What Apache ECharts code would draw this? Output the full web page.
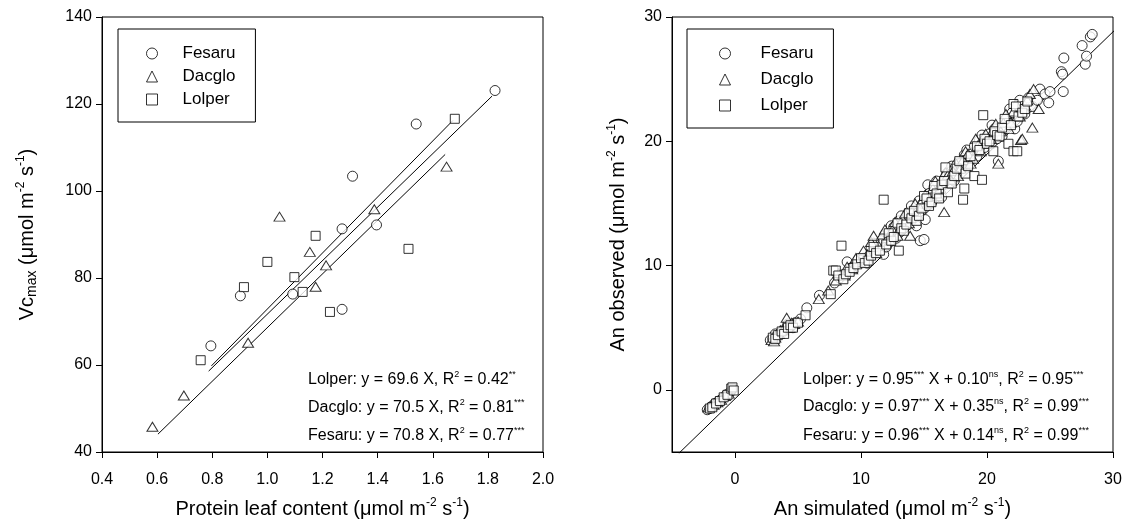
<!DOCTYPE html>
<html><head><meta charset="utf-8">
<script src="https://cdn.jsdelivr.net/npm/echarts@6/dist/echarts.min.js"></script>
<style>html,body{margin:0;padding:0;background:#fff}#c{width:1125px;height:519px}</style>
</head><body><div id="c"></div>
<script>
// ---------- data ----------
const speciesNames = ['Fesaru', 'Dacglo', 'Lolper'];

// Left panel: protein leaf content vs Vcmax
const fesaruLeft = [[0.795,64.4],[0.902,75.9],[1.092,76.3],[1.271,91.3],[1.271,72.8],[1.309,103.4],[1.396,92.2],[1.54,115.4],[1.826,123.1]];
const dacgloLeft = [[0.583,45.8],[0.697,53.0],[0.930,65.1],[1.044,94.1],[1.154,86.0],[1.175,78.0],[1.213,82.9],[1.388,95.8],[1.65,105.6]];
const lolperLeft = [[0.758,61.1],[0.915,77.9],[1.0,83.7],[1.098,80.2],[1.128,76.8],[1.175,89.7],[1.227,72.2],[1.512,86.7],[1.68,116.6]];
const fitFesaruLeft = [[0.787,58.6],[1.815,121.8]];
const fitLolperLeft = [[0.797,59.8],[1.673,116.2]];
const fitDacgloLeft = [[0.603,44.1],[1.645,108.4]];

// Right panel: An simulated vs An observed
const fesaruRight = [[-2.2,-1.6],[-2.0,-1.5],[-1.8,-1.3],[-1.6,-1.1],[-1.3,-0.9],[-1.0,-0.7],[-0.7,-0.4],[-0.4,-0.2],
 [2.8,4.0],[3.0,4.1],[3.2,4.5],[3.3,4.3],[3.6,4.6],[4.0,4.9],[4.2,5.3],[4.4,5.1],[4.6,5.0],[4.8,5.4],[5.2,5.7],
 [5.7,6.6],[6.7,7.6],[7.9,8.6],[8.3,9.0],[8.9,10.3],[9.2,9.8],[9.5,10.0],[9.8,10.5],[10.2,10.6],[10.5,10.2],[10.8,11.4],[11.0,11.8],[11.3,11.2],[11.6,12.0],[11.8,10.9],[12.0,11.5],[12.2,12.4],[12.4,13.2],[12.6,13.1],[12.8,12.2],[13.0,13.6],[13.2,14.0],[13.4,13.0],[13.6,13.5],[13.8,14.3],[14.0,14.8],[14.2,14.0],[14.4,13.2],[14.6,15.2],[14.7,12.0],[14.9,15.0],[15.0,12.1],[15.1,13.7],[15.3,16.5],[15.4,15.8],[15.6,15.1],[15.8,16.3],[16.0,16.8],[16.2,16.0],[16.4,15.5],[16.6,16.9],[16.8,17.4],[17.0,17.5],[17.2,18.0],[17.4,16.8],[17.6,17.2],[17.8,18.2],[18.0,17.8],[18.2,18.9],[18.4,19.3],[18.6,18.4],[18.8,19.0],[19.0,19.6],[19.2,18.8],[19.4,20.1],[19.6,20.5],[19.8,19.5],[20.0,20.0],[20.2,20.6],[20.4,21.3],[20.6,21.0],[20.8,20.2],[20.9,18.4],[21.2,20.4],[21.4,21.0],[21.6,21.8],[21.8,22.6],[22.0,22.3],[22.2,21.0],[22.4,21.6],[22.6,23.3],[22.8,22.8],[23.0,22.2],[23.3,23.5],[23.6,22.8],[24.0,23.3],[24.2,24.2],[24.6,23.8],[24.9,23.1],[25.0,24.0],[25.9,25.6],[26.0,25.4],[26.05,24.0],[26.1,26.7],[27.55,27.7],[27.8,26.2],[27.9,26.85],[28.2,28.4],[28.35,28.6]];
const dacgloRight = [[-2.1,-1.4],[-1.9,-1.3],[-1.7,-1.2],[-1.4,-1.0],[-1.1,-0.8],[-0.8,-0.5],[-0.5,-0.3],
 [2.9,4.0],[3.1,3.9],[3.2,4.2],[3.5,4.5],[3.6,4.8],[3.8,4.8],[4.1,5.8],[4.3,5.0],[4.5,5.4],[4.7,5.3],[5.0,5.5],
 [6.65,7.3],[7.4,8.0],[8.0,8.8],[8.2,9.4],[8.7,9.2],[8.9,9.9],[9.3,9.7],[9.6,10.6],[9.9,10.3],[10.2,11.2],[10.5,10.9],[10.8,11.9],[11.0,12.4],[11.2,11.0],[11.4,11.6],[11.7,12.5],[11.9,12.9],[12.1,12.2],[12.3,12.0],[12.5,12.9],[12.7,13.5],[12.9,12.4],[13.1,13.0],[13.3,13.7],[13.5,14.2],[13.8,13.4],[13.9,12.4],[14.1,14.4],[14.3,15.0],[14.5,14.1],[14.7,14.6],[14.9,15.3],[15.1,15.7],[15.3,15.0],[15.5,15.3],[15.7,16.2],[15.9,16.8],[16.1,15.6],[16.3,16.2],[16.6,14.3],[16.7,17.5],[16.9,17.3],[17.1,16.9],[17.3,17.6],[17.5,18.3],[17.7,17.2],[17.9,17.8],[18.1,18.5],[18.3,19.2],[18.5,19.0],[18.7,18.2],[18.9,18.6],[19.1,20.2],[19.3,19.7],[19.5,19.2],[19.7,20.0],[19.9,20.6],[20.1,19.8],[20.3,20.2],[20.5,20.9],[20.7,21.4],[20.9,18.2],[21.1,20.8],[21.3,21.5],[21.5,22.2],[21.7,21.0],[21.9,21.5],[22.1,22.4],[22.3,23.0],[22.6,22.0],[22.7,20.1],[22.8,20.2],[23.0,22.9],[23.2,23.3],[23.4,23.8],[23.6,21.1],[23.7,24.2],[24.1,22.6]];
const lolperRight = [[-2.0,-1.5],[-1.8,-1.4],[-1.5,-1.1],[-1.2,-0.9],[-0.9,-0.6],[-0.6,-0.4],[-0.3,0.1],[-0.2,0.2],[-0.1,-0.05],
 [3.0,4.2],[3.2,4.1],[3.4,4.4],[3.7,4.7],[3.9,4.5],[4.2,5.0],[4.4,5.2],[4.6,5.0],[5.0,5.4],[5.6,6.0],
 [7.6,7.7],[7.8,9.6],[8.0,9.6],[8.2,9.2],[8.45,11.6],[8.6,8.9],[8.8,9.3],[9.1,9.5],[9.4,9.8],[9.7,10.1],[10.0,10.6],[10.3,10.2],[10.6,10.4],[10.8,10.8],[11.0,11.5],[11.2,11.0],[11.5,11.2],[11.8,15.3],[12.0,11.7],[12.2,12.6],[12.4,12.0],[12.6,12.3],[12.9,13.4],[13.0,11.2],[13.2,13.0],[13.4,12.8],[13.6,13.3],[13.8,14.2],[14.0,13.8],[14.2,14.4],[14.4,13.6],[14.6,14.0],[14.8,14.6],[15.0,15.6],[15.2,15.4],[15.4,14.8],[15.6,15.1],[15.8,16.4],[16.0,15.8],[16.2,15.4],[16.4,16.5],[16.6,16.8],[16.7,17.9],[16.9,15.9],[17.2,16.6],[17.4,17.2],[17.6,17.8],[17.8,18.4],[18.1,15.3],[18.2,16.2],[18.3,17.4],[18.5,18.0],[18.7,18.8],[19.0,17.2],[19.2,19.6],[19.4,19.3],[19.6,16.9],[19.7,22.1],[19.8,20.2],[20.0,19.8],[20.2,20.0],[20.5,19.2],[20.6,20.8],[20.8,20.5],[21.0,20.4],[21.2,21.1],[21.4,21.8],[21.7,19.8],[21.9,21.3],[22.1,23.0],[22.1,19.2],[22.3,22.8],[22.4,19.2],[22.5,22.0],[22.8,22.3],[23.0,22.6],[23.2,23.2]];
const refLineRight = [[-4.45,-5.1],[30.5,29.3]];

// Tick labels
const leftXTicks = [0.4,0.6,0.8,1.0,1.2,1.4,1.6,1.8,2.0];
const leftYTicks = [40,60,80,100,120,140];
const rightXTicks = [0,10,20,30];
const rightYTicks = [0,10,20,30];

// Texts
const leftXTitle = 'Protein leaf content (μmol m{sup|-2} s{sup|-1})';
const leftYTitle = 'Vc{sub|max} (μmol m{sup|-2} s{sup|-1})';
const rightXTitle = 'An simulated (μmol m{sup|-2} s{sup|-1})';
const rightYTitle = 'An observed (μmol m{sup|-2} s{sup|-1})';
const leftEquations = [
  'Lolper: y = 69.6 X, R{s|2} = 0.42{s|**}',
  'Dacglo: y = 70.5 X, R{s|2} = 0.81{s|***}',
  'Fesaru: y = 70.8 X, R{s|2} = 0.77{s|***}'
];
const rightEquations = [
  'Lolper: y = 0.95{s|***} X + 0.10{s|ns}, R{s|2} = 0.95{s|***}',
  'Dacglo: y = 0.97{s|***} X + 0.35{s|ns}, R{s|2} = 0.99{s|***}',
  'Fesaru: y = 0.96{s|***} X + 0.14{s|ns}, R{s|2} = 0.99{s|***}'
];

// ---------- chart ----------
const FONT = '"Liberation Sans", Arial, sans-serif';
const titleRich = {
  sup: {fontSize: 12, lineHeight: 12, verticalAlign: 'top', fontFamily: FONT, color: '#000'},
  sub: {fontSize: 14, lineHeight: 14, verticalAlign: 'bottom', fontFamily: FONT, color: '#000'}
};
const eqRich = {
  s: {fontSize: 9, lineHeight: 9, verticalAlign: 'top', fontFamily: FONT, fill: '#000', color: '#000'}
};
const symbols = {Fesaru: 'circle', Dacglo: 'triangle', Lolper: 'rect'};
const sizesL = {Fesaru: 10, Dacglo: [11, 9], Lolper: 9};
const sizesR = {Fesaru: 10, Dacglo: [11, 9], Lolper: 9};
const markStyle = {color: '#fff', borderColor: '#000', borderWidth: 1};

function axisCommon(ticks, fmt, margin) {
  return {
    axisLine: {show: true, onZero: false, lineStyle: {color: '#000', width: 1}},
    axisTick: {show: true, length: 6, inside: false, lineStyle: {color: '#000', width: 1}, customValues: ticks},
    axisLabel: {color: '#000', fontSize: 16, fontFamily: FONT, margin: margin, customValues: ticks, formatter: fmt},
    splitLine: {show: false},
    nameTextStyle: {color: '#000', fontSize: 20, fontFamily: FONT, lineHeight: 24, rich: titleRich}
  };
}

const chart = echarts.init(document.getElementById('c'), null, {renderer: 'canvas'});

function scatter(name, data, idx, sizes) {
  return {type: 'scatter', name: name, xAxisIndex: idx, yAxisIndex: idx, data: data,
    symbol: symbols[name], symbolSize: sizes[name], itemStyle: markStyle, z: 3};
}
function fitLine(data, idx, clip) {
  return {type: 'line', xAxisIndex: idx, yAxisIndex: idx, data: data, symbol: 'none', silent: true,
    clip: clip, lineStyle: {color: '#000', width: 1}, z: 2};
}
function legendFor(left, pad, gap, textPad) {
  return {
    data: speciesNames, orient: 'vertical', left: left, top: 29, padding: pad, itemGap: gap,
    itemWidth: 11, itemHeight: 11, borderColor: '#000', borderWidth: 1, selectedMode: false,
    itemStyle: {color: '#fff', borderColor: '#000', borderWidth: 1},
    textStyle: {color: '#000', fontSize: 17, fontFamily: FONT, lineHeight: 19, padding: [0, 0, 0, textPad]}
  };
}
function eqGraphics(lines, left, tops) {
  return lines.map((t, i) => ({
    type: 'text', left: left, top: tops[i],
    style: {text: t, fontSize: 16, fontFamily: FONT, fill: '#000', lineHeight: 20, rich: eqRich}
  }));
}
const gridBase = {top: 17, width: 441, height: 435, show: true, borderColor: '#000', borderWidth: 1,
  backgroundColor: 'transparent', containLabel: false, outerBoundsMode: 'none'};

chart.setOption({
  animation: false,
  backgroundColor: '#fff',
  grid: [
    Object.assign({left: 102}, gridBase),
    Object.assign({left: 672}, gridBase)
  ],
  xAxis: [
    Object.assign(axisCommon(leftXTicks, v => v.toFixed(1), 20), {
      gridIndex: 0, type: 'value', min: 0.4, max: 2.0,
      name: leftXTitle, nameLocation: 'middle', nameGap: 45}),
    Object.assign(axisCommon(rightXTicks, v => String(v), 20), {
      gridIndex: 1, type: 'value', min: -5, max: 30,
      name: rightXTitle, nameLocation: 'middle', nameGap: 45})
  ],
  yAxis: [
    Object.assign(axisCommon(leftYTicks, v => String(v), 10), {
      gridIndex: 0, type: 'value', min: 40, max: 140,
      name: leftYTitle, nameLocation: 'middle', nameRotate: 90, nameGap: 63}),
    Object.assign(axisCommon(rightYTicks, v => String(v), 10), {
      gridIndex: 1, type: 'value', min: -5, max: 30,
      name: rightYTitle, nameLocation: 'middle', nameRotate: 90, nameGap: 42})
  ],
  legend: [
    legendFor(118, [15, 20, 13, 28], 4, 20),
    legendFor(687, [15, 20, 13, 32], 7, 25)
  ],
  series: [
    fitLine(fitFesaruLeft, 0, true),
    fitLine(fitLolperLeft, 0, true),
    fitLine(fitDacgloLeft, 0, true),
    scatter('Fesaru', fesaruLeft, 0, sizesL),
    scatter('Dacglo', dacgloLeft, 0, sizesL),
    scatter('Lolper', lolperLeft, 0, sizesL),
    fitLine(refLineRight, 1, false),
    scatter('Fesaru', fesaruRight, 1, sizesR),
    scatter('Dacglo', dacgloRight, 1, sizesR),
    scatter('Lolper', lolperRight, 1, sizesR)
  ],
  graphic: eqGraphics(leftEquations, 308, [370, 398, 426]).concat(eqGraphics(rightEquations, 803, [370, 397, 426]))
});
</script>
</body></html>
